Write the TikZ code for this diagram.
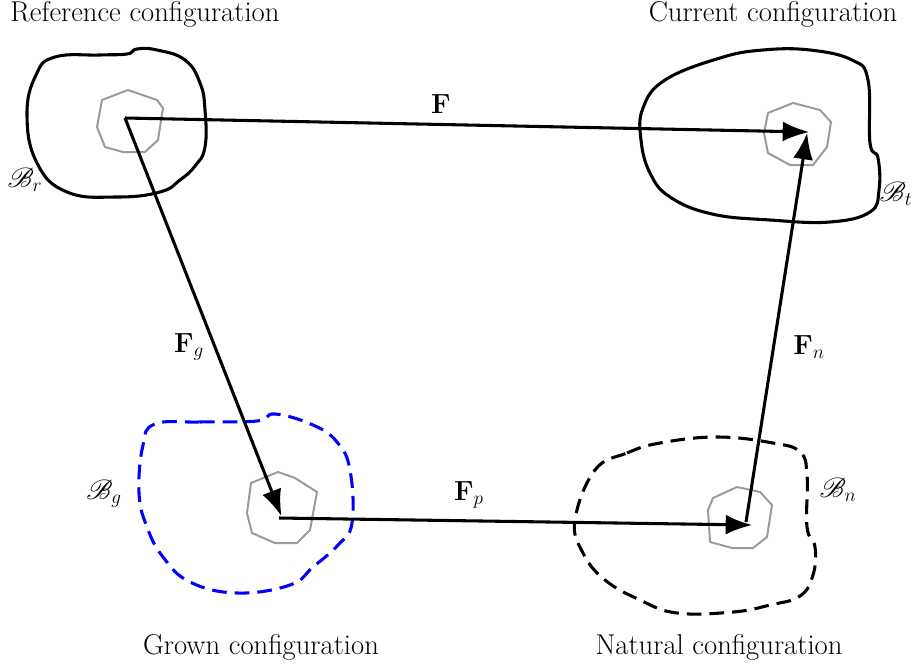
\documentclass[tikz,border=0pt]{standalone}
\usepackage{mathrsfs}
\usetikzlibrary{arrows.meta}
\definecolor{polygray}{RGB}{155,155,155}
\tikzset{
  lbl/.style={font=\fontsize{21.5}{25}\selectfont, inner sep=0pt},
  mlbl/.style={font=\fontsize{21}{25}\selectfont, inner sep=0pt},
  blob/.style={line width=2.3pt, black},
  dblob/.style={line width=2.3pt, black, dash pattern=on 11pt off 6pt},
  bblob/.style={line width=2.3pt, blue, dash pattern=on 11pt off 6pt},
  poly/.style={line width=1.5pt, polygray, line join=round},
  vec/.style={line width=2.3pt, -{Latex[length=20pt,width=15pt]}, shorten >=-1pt}
}
\begin{document}
\begin{tikzpicture}[x=0.75pt,y=-0.75pt]
\useasboundingbox (0,0) rectangle (920,668);
% blobs
\draw[blob] plot[smooth cycle, tension=0.75] coordinates {(36,75) (55,57) (100,55) (127,54) (137,49) (157,50) (185,60) (200,83) (205,110) (205,147) (195,166) (180,180) (160,192) (117,197) (67,192) (37,163) (27,115)};
\draw[blob] plot[smooth cycle, tension=0.7] coordinates {(643,108) (665,80) (720,58) (763,50) (810,50) (852,60) (868,80) (870,143) (878,158) (879,190) (870,212) (830,222) (770,220) (712,214) (670,197) (650,173) (641,140)};
\draw[bblob] plot[smooth cycle, tension=0.7] coordinates {(155,424) (200,422) (257,421) (275,414) (313,425) (337,442) (350,470) (352,523) (338,545) (313,567) (290,585) (237,593) (190,582) (163,557) (147,527) (139,493) (143,445)};
\draw[dblob] plot[smooth cycle, tension=0.7] coordinates {(595,470) (627,453) (660,443) (717,437) (773,443) (800,452) (807,475) (807,527) (815,547) (813,575) (800,596) (770,605) (733,612) (677,613) (640,600) (605,580) (583,553) (575,520)};
% small polygons
\draw[poly] (128,90) -- (157,100) -- (163,108) -- (158,140) -- (145,152) -- (123,152) -- (105,147) -- (97,127) -- (102,100) -- cycle;
\draw[poly] (793,103) -- (820,110) -- (831,122) -- (827,147) -- (813,165) -- (790,165) -- (768,153) -- (764,133) -- (768,113) -- cycle;
\draw[poly] (278,472) -- (295,478) -- (317,492) -- (310,530) -- (297,543) -- (275,543) -- (252,533) -- (247,513) -- (251,483) -- cycle;
\draw[poly] (737,487) -- (760,492) -- (772,505) -- (767,537) -- (753,548) -- (732,548) -- (710,542) -- (708,510) -- (713,498) -- cycle;
% points
\coordinate (r) at (125,118);
\coordinate (t) at (808,132);
\coordinate (g) at (281,515);
\coordinate (gs) at (279,518);
\coordinate (n) at (751,525);
\coordinate (ns) at (746,522);
\coordinate (t2) at (807,134);
% arrows
\draw[vec] (r) -- (t);
\draw[vec] (r) -- (g);
\draw[vec] (gs) -- (n);
\draw[vec] (ns) -- (t2);
% labels
\node[lbl] (lref) at (145,14) {Reference configuration};
\node[lbl] (lcur) at (773,14) {Current configuration};
\node[lbl] (lgro) at (261,647) {Grown configuration};
\node[lbl] (lnat) at (719,647) {Natural configuration};
\node[mlbl] (F) at (441,104) {$\mathbf{F}$};
\node[mlbl] (Fg) at (189,347) {$\mathbf{F}_g$};
\node[mlbl] (Fp) at (469,495) {$\mathbf{F}_p$};
\node[mlbl] (Fn) at (809,347) {$\mathbf{F}_n$};
\node[mlbl] (Br) at (25,180) {$\mathscr{B}_r$};
\node[mlbl] (Bt) at (896,194) {$\mathscr{B}_t$};
\node[mlbl] (Bg) at (104,494) {$\mathscr{B}_g$};
\node[mlbl] (Bn) at (838,490) {$\mathscr{B}_n$};
\end{tikzpicture}
\end{document}
